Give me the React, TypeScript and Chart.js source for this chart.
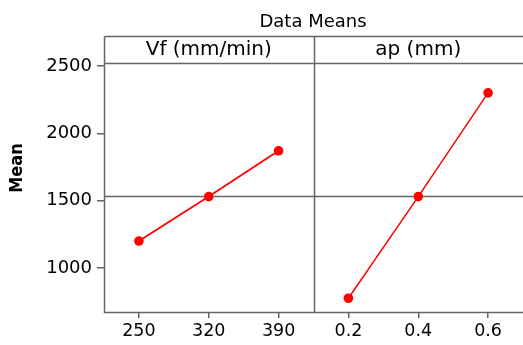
import { useEffect, useRef } from "react";
import { Chart, registerables } from "chart.js";

Chart.register(...registerables);

const chartTitle = "Data Means";
const yTitle = "Mean";
const panelTitles = ["Vf (mm/min)", "ap (mm)"];
const vfLevels = ["250", "320", "390"];
const vfMeans = [1200, 1530, 1870];
const apLevels = ["0.2", "0.4", "0.6"];
const apMeans = [775, 1530, 2300];
const yTicks = [1000, 1500, 2000, 2500];

const allMeans = [...vfMeans, ...apMeans];
const grandMean = allMeans.reduce((a, b) => a + b, 0) / allMeans.length;
const xLabels = [...vfLevels, ...apLevels];

const FONT = "'DejaVu Sans', Verdana, sans-serif";
const FRAME = "#666666";
const TEXT = "#000000";

export default function App() {
  const ref = useRef<HTMLCanvasElement | null>(null);

  useEffect(() => {
    if (!ref.current) return;
    const panelPlugin = {
      id: "panels",
      beforeDatasetsDraw(chart: any) {
        const { ctx, chartArea } = chart;
        const ys = chart.scales.y;
        ctx.save();
        ctx.strokeStyle = FRAME;
        ctx.lineWidth = 1.5;
        const yRef = Math.round(ys.getPixelForValue(grandMean)) + 0.5;
        ctx.beginPath();
        ctx.moveTo(chartArea.left, yRef);
        ctx.lineTo(chartArea.right, yRef);
        ctx.stroke();
        ctx.restore();
      },
      afterDraw(chart: any) {
        const { ctx, chartArea } = chart;
        const xs = chart.scales.x;
        const headerTop = 36.5;
        const left = Math.round(chartArea.left) + 0.5;
        const right = chartArea.right;
        const top = Math.round(chartArea.top) + 0.5;
        const bottom = Math.round(chartArea.bottom) + 0.5;
        const divX = Math.round(xs.getPixelForValue(3)) + 0.5;
        ctx.save();
        ctx.strokeStyle = FRAME;
        ctx.lineWidth = 1.5;
        ctx.beginPath();
        ctx.moveTo(left, headerTop);
        ctx.lineTo(right, headerTop);
        ctx.moveTo(left, top);
        ctx.lineTo(right, top);
        ctx.moveTo(left, headerTop);
        ctx.lineTo(left, bottom);
        ctx.lineTo(right, bottom);
        ctx.moveTo(divX, headerTop);
        ctx.lineTo(divX, bottom);
        ctx.stroke();

        ctx.fillStyle = TEXT;
        ctx.textAlign = "center";
        ctx.textBaseline = "middle";
        ctx.font = `20px ${FONT}`;
        const hy = (headerTop + top) / 2;
        ctx.fillText(panelTitles[0], xs.getPixelForValue(1.5), hy);
        ctx.fillText(panelTitles[1], xs.getPixelForValue(4.5), hy);

        ctx.font = `18px ${FONT}`;
        ctx.fillText(chartTitle, 313, 22);

        ctx.save();
        ctx.translate(17, 168);
        ctx.rotate(-Math.PI / 2);
        ctx.font = `bold 18px 'DejaVu Sans Condensed', 'DejaVu Sans', sans-serif`;
        ctx.fillText(yTitle, 0, 0);
        ctx.restore();
        ctx.restore();
      },
    };

    const chart = new Chart(ref.current, {
      type: "line",
      data: {
        datasets: [
          {
            data: vfMeans.map((v, i) => ({ x: i + 0.5, y: v })),
            borderColor: "#ff0000",
            backgroundColor: "#ff0000",
            borderWidth: 1.8,
            pointRadius: 4.8,
            pointBorderWidth: 0,
            pointHoverRadius: 4.8,
          },
          {
            data: apMeans.map((v, i) => ({ x: vfLevels.length + i + 0.5, y: v })),
            borderColor: "#ff0000",
            backgroundColor: "#ff0000",
            borderWidth: 1.5,
            pointRadius: 4.8,
            pointBorderWidth: 0,
            pointHoverRadius: 4.8,
          },
        ],
      },
      options: {
        animation: false,
        responsive: false,
        events: [],
        layout: { autoPadding: false, padding: { top: 63, left: 0, right: 0, bottom: 0 } },
        plugins: { legend: { display: false }, tooltip: { enabled: false }, title: { display: false } },
        scales: {
          x: {
            type: "linear",
            min: 0,
            max: xLabels.length,
            afterFit(scale: any) {
              scale.height = 33;
              scale.paddingLeft = 0;
              scale.paddingRight = 0;
            },
            afterBuildTicks(scale: any) {
              scale.ticks = xLabels.map((_, i) => ({ value: i + 0.5 }));
            },
            ticks: {
              autoSkip: false,
              maxRotation: 0,
              padding: 3,
              color: TEXT,
              font: { family: FONT, size: 17.5 },
              callback: (_v: any, i: number) => xLabels[i],
            },
            grid: { drawOnChartArea: false, drawTicks: true, tickLength: 6, color: FRAME, lineWidth: 1.5 },
            border: { display: false },
          },
          y: {
            type: "linear",
            min: 673,
            max: 2522,
            afterFit(scale: any) {
              scale.width = 104;
              scale.paddingTop = 0;
              scale.paddingBottom = 0;
            },
            afterBuildTicks(scale: any) {
              scale.ticks = yTicks.map((v) => ({ value: v }));
            },
            ticks: {
              padding: 5,
              color: TEXT,
              font: { family: FONT, size: 18 },
              callback: (v: any) => String(v),
            },
            grid: { drawOnChartArea: false, drawTicks: true, tickLength: 7, color: FRAME, lineWidth: 1.5 },
            border: { display: false },
          },
        },
      },
      plugins: [panelPlugin],
    });
    return () => chart.destroy();
  }, []);

  return (
    <div style={{ position: "fixed", left: 0, top: 0, width: 523, height: 345, background: "#fff" }}>
      <canvas ref={ref} width={523} height={345} style={{ display: "block", width: 523, height: 345 }} />
    </div>
  );
}
